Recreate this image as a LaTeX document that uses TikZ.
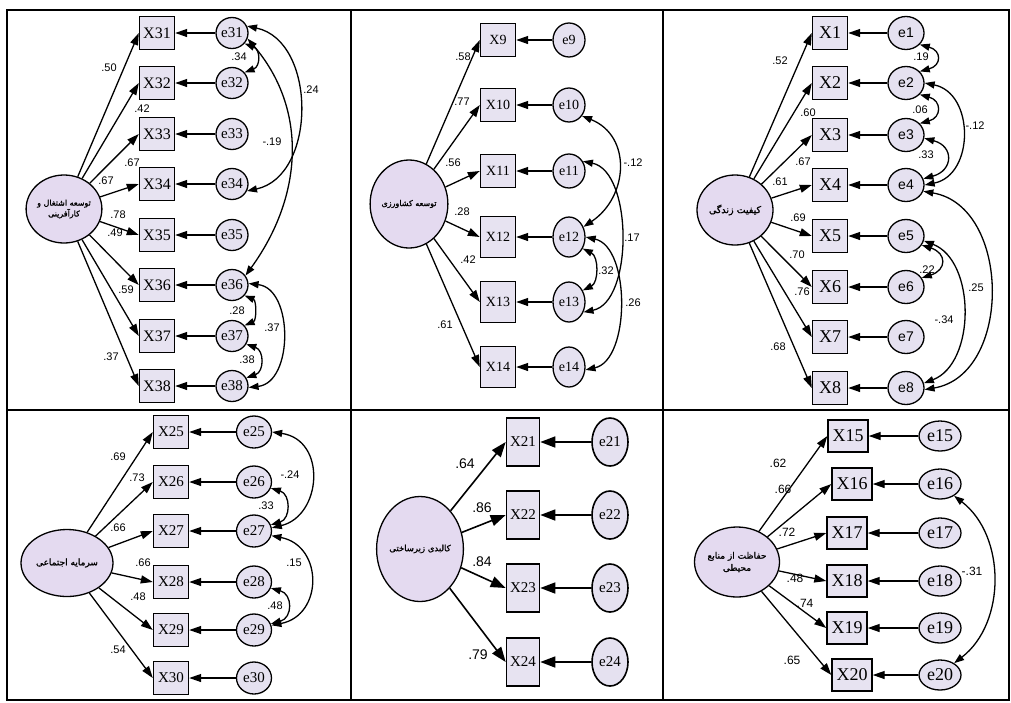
\documentclass[tikz,border=0pt]{standalone}
\usepackage{fontspec}
\setmainfont{Liberation Serif}
\setsansfont{Liberation Sans}
\newfontfamily\fa[Script=Arabic,FakeBold=1.2]{DejaVu Sans}
\TeXXeTstate=1
\usetikzlibrary{arrows.meta,shapes.geometric}
\definecolor{boxfill}{RGB}{231,227,241}
\definecolor{errfill}{RGB}{229,225,240}
\definecolor{latfill}{RGB}{228,218,240}
\newcommand{\myfs}[1]{\fontsize{#1}{#1}\selectfont}
\newcommand{\latfs}[1]{\fa\fontsize{#1}{1.35\dimexpr#1pt\relax}\selectfont}
\tikzset{
 obs/.style={draw, line width=1.4pt, fill=boxfill, inner sep=0pt, minimum width=35pt, minimum height=33pt},
 err/.style={draw, ellipse, line width=1.3pt, fill=errfill, inner sep=0pt, minimum width=32pt, minimum height=31pt},
 lat/.style={draw, ellipse, line width=1.3pt, fill=latfill, inner sep=0pt, align=center},
 ld/.style={-{Triangle[length=12pt,width=8pt]}, line width=1.3pt},
 ldbig/.style={-{Triangle[length=15pt,width=11pt]}, line width=1.6pt},
 cov/.style={{Triangle[length=10pt,width=7pt]}-{Triangle[length=10pt,width=7pt]}, line width=1.3pt},
 coef/.style={font=\sffamily\myfs{11}, inner sep=0pt},
 frame/.style={line width=2pt}
}
\begin{document}
\begin{tikzpicture}[x=1pt,y=-1pt]
\useasboundingbox (0,0) rectangle (1011,702);
\fill[white] (0,0) rectangle (1011,702);
% frame
\draw[frame] (7,10) rectangle (1009,700);
\draw[frame] (351,10) -- (351,700);
\draw[frame] (663,10) -- (663,700);
\draw[frame] (7,410) -- (1009,410);

% ---------------- Panel 1
\node[lat, minimum width=72pt, minimum height=68pt, font=\latfs{8}] (L1) at (64,209) {\beginR توسعه اشتغال و\endR\\\beginR کارآفرینی\endR};
\foreach \n/\y in {31/33,32/83,33/134,34/184,35/235,36/285,37/336,38/386}{
  \node[obs, font=\myfs{16}] (X\n) at (157,\y) {X\n};
  \node[err, font=\myfs{15}] (e\n) at (232,\y) {e\n};
  \draw[ld] (e\n) -- (X\n);
  \draw[ld] (L1) -- (X\n.west);
}
\node[coef] (c31) at (109,68) {.50};
\node[coef] (c32) at (142,109) {.42};
\node[coef] (c33) at (132,163) {.67};
\node[coef] (c34) at (106,181) {.67};
\node[coef] (c35) at (118,215) {.78};
\node[coef] (c36) at (115,233) {.49};
\node[coef] (c37) at (126,290) {.59};
\node[coef] (c38) at (111,357) {.37};
\draw[cov] (e31.-40) .. controls +(16,6) and +(16,-6) .. (e32.40);
\node[coef] (k11) at (239,57) {.34};
\draw[cov] (e31.25) .. controls +(70,15) and +(70,-15) .. (e34.-25);
\node[coef] (k12) at (311,90) {.24};
\draw[cov] (e31.-20) .. controls +(60,70) and +(58,-80) .. (e36.35);
\node[coef] (k13) at (272,142) {-.19};
\draw[cov] (e36.-40) .. controls +(12,5) and +(12,-5) .. (e37.40);
\node[coef] (k14) at (237,311) {.28};
\draw[cov] (e37.-30) .. controls +(18,6) and +(18,-6) .. (e38.30);
\node[coef] (k15) at (247,360) {.38};
\draw[cov] (e36.5) .. controls +(45,5) and +(45,-5) .. (e38.-5);
\node[coef] (k16) at (272,328) {.37};

% ---------------- Panel 2
\node[lat, minimum width=72pt, minimum height=88pt, font=\latfs{8}] (L2) at (409,204) {\beginR توسعه کشاورزی\endR};
\foreach \n/\y in {9/40,10/105,11/171}{
  \node[obs, font=\myfs{14}] (X\n) at (498,\y) {X\n};
  \node[err, minimum height=34pt, font=\myfs{14}] (e\n) at (569,\y) {e\n};
  \draw[ld] (e\n) -- (X\n);
  \draw[ld] (L2) -- (X\n.west);
}
\foreach \n/\y in {12/237,13/302,14/367}{
  \node[obs, minimum height=41pt, font=\myfs{14}] (X\n) at (498,\y) {X\n};
  \node[err, minimum height=40pt, font=\myfs{14}] (e\n) at (569,\y) {e\n};
  \draw[ld] (e\n) -- (X\n);
  \draw[ld] (L2) -- (X\n.west);
}
\node[coef] (c9) at (463,57) {.58};
\node[coef] (c10) at (462,102) {.77};
\node[coef] (c11) at (453,163) {.56};
\node[coef] (c12) at (462,212) {.28};
\node[coef] (c13) at (468,260) {.42};
\node[coef] (c14) at (445,325) {.61};
\draw[cov] (e10.-40) .. controls +(50,20) and +(45,-30) .. (e12.35);
\node[coef] (k21) at (633,163) {-.12};
\draw[cov] (e11.35) .. controls +(50,10) and +(50,-10) .. (e13.-35);
\node[coef] (k22) at (632,238) {.17};
\draw[cov] (e12.-40) .. controls +(16,8) and +(16,-8) .. (e13.40);
\node[coef] (k23) at (606,271) {.32};
\draw[cov] (e12.0) .. controls +(45,10) and +(45,-10) .. (e14.-10);
\node[coef] (k24) at (633,303) {.26};

% ---------------- Panel 3
\node[lat, minimum width=76pt, minimum height=70pt, font=\latfs{9.5}] (L3) at (735,210) {\beginR کیفیت زندگی\endR};
\foreach \n/\y in {1/33,2/83,3/135,4/185,5/236,6/287,7/337,8/388}{
  \node[obs, font=\myfs{18}] (X\n) at (830,\y) {X\n};
  \node[err, minimum width=36pt, minimum height=33pt, font=\sffamily\myfs{14}] (e\n) at (906,\y) {e\n};
  \draw[ld] (e\n) -- (X\n);
  \draw[ld] (L3) -- (X\n.west);
}
\node[coef] (c1) at (780,61) {.52};
\node[coef] (c2) at (808,113) {.60};
\node[coef] (c3) at (803,162) {.67};
\node[coef] (c4) at (780,182) {.61};
\node[coef] (c5) at (798,218) {.69};
\node[coef] (c6) at (797,255) {.70};
\node[coef] (c7) at (802,292) {.76};
\node[coef] (c8) at (778,347) {.68};
\draw[cov] (e1.-40) .. controls +(22,6) and +(22,-6) .. (e2.40);
\node[coef] (k31) at (921,57) {.19};
\draw[cov] (e2.-40) .. controls +(22,6) and +(22,-6) .. (e3.40);
\node[coef] (k32) at (920,110) {.06};
\draw[cov] (e3.-10) .. controls +(30,8) and +(30,-8) .. (e4.20);
\node[coef] (k33) at (926,155) {.33};
\draw[cov] (e2.0) .. controls +(50,10) and +(50,-10) .. (e4.0);
\node[coef] (k34) at (975,126) {-.12};
\draw[cov] (e5.-30) .. controls +(25,8) and +(25,-8) .. (e6.30);
\node[coef] (k35) at (927,270) {.22};
\draw[cov] (e5.-15) .. controls +(52,20) and +(52,-20) .. (e8.15);
\node[coef] (k36) at (944,320) {-.34};
\draw[cov] (e4.-20) .. controls +(88,15) and +(88,-15) .. (e8.-5);
\node[coef] (k37) at (976,288) {.25};

% ---------------- Panel 4
\node[lat, minimum width=92pt, minimum height=67pt, font=\latfs{9}] (L4) at (67,563) {\beginR سرمایه اجتماعی\endR};
\foreach \n/\y in {25/432,26/482,27/531,28/582,29/630,30/678}{
  \node[obs, font=\myfs{15}] (X\n) at (171,\y) {X\n};
  \node[err, minimum width=35pt, minimum height=32pt, font=\myfs{15}] (e\n) at (254,\y) {e\n};
  \draw[ld] (e\n) -- (X\n);
  \draw[ld] (L4) -- (X\n.west);
}
\node[coef] (c25) at (118,457) {.69};
\node[coef] (c26) at (137,478) {.73};
\node[coef] (c27) at (118,528) {.66};
\node[coef] (c28) at (143,563) {.66};
\node[coef] (c29) at (138,597) {.48};
\node[coef] (c30) at (118,650) {.54};
\draw[cov] (e25.0) .. controls +(55,8) and +(50,-12) .. (e27.10);
\node[coef] (k41) at (290,475) {-.24};
\draw[cov] (e26.-20) .. controls +(20,6) and +(20,-6) .. (e27.20);
\node[coef] (k42) at (266,506) {.33};
\draw[cov] (e27.-15) .. controls +(52,10) and +(52,-10) .. (e29.15);
\node[coef] (k43) at (294,563) {.15};
\draw[cov] (e28.-20) .. controls +(22,6) and +(22,-6) .. (e29.20);
\node[coef] (k44) at (275,606) {.48};

% ---------------- Panel 5
\node[lat, minimum width=80pt, minimum height=105pt, font=\latfs{8.5}] (L5) at (420,549) {\beginR کالبدی زیرساختی\endR};
\foreach \n/\y in {21/442,22/515,23/588,24/662}{
  \node[obs, line width=1.6pt, minimum width=33pt, minimum height=48pt, font=\myfs{15}] (X\n) at (523,\y) {X\n};
  \node[err, line width=1.6pt, minimum width=36pt, minimum height=48pt, font=\myfs{15}] (e\n) at (610,\y) {e\n};
  \draw[ldbig] (e\n) -- (X\n);
  \draw[ldbig] (L5) -- (X\n.west);
}
\node[coef, font=\sffamily\myfs{14}] (c21) at (465,464) {.64};
\node[coef, font=\sffamily\myfs{14}] (c22) at (482,508) {.86};
\node[coef, font=\sffamily\myfs{14}] (c23) at (482,562) {.84};
\node[coef, font=\sffamily\myfs{14}] (c24) at (478,655) {.79};

% ---------------- Panel 6
\node[lat, minimum width=85pt, minimum height=70pt, font=\latfs{9}] (L6) at (737,562) {\beginR حفاظت از منابع\endR\\\beginR محیطی\endR};
\foreach \n/\y/\bx in {15/436/848,16/484/852,17/533/847,18/581/847,19/628/847,20/675/852}{
  \node[obs, minimum width=40pt, minimum height=32pt, font=\myfs{18}] (X\n) at (\bx,\y) {X\n};
  \node[err, minimum width=42pt, minimum height=30pt, font=\myfs{18}] (e\n) at (940,\y) {e\n};
  \draw[ld] (e\n) -- (X\n);
  \draw[ld] (L6) -- (X\n.west);
}
\node[coef, font=\sffamily\myfs{12}] (c15) at (778,463) {.62};
\node[coef, font=\sffamily\myfs{12}] (c16) at (783,489) {.66};
\node[coef, font=\sffamily\myfs{12}] (c17) at (787,532) {.72};
\node[coef, font=\sffamily\myfs{12}] (c18) at (795,578) {.48};
\node[coef, font=\sffamily\myfs{12}] (c19) at (805,603) {.74};
\node[coef, font=\sffamily\myfs{12}] (c20) at (792,660) {.65};
\draw[cov] (e16.-40) .. controls +(52,40) and +(52,-40) .. (e20.40);
\node[coef, font=\sffamily\myfs{12}] (k61) at (972,571) {-.31};
\end{tikzpicture}
\end{document}
